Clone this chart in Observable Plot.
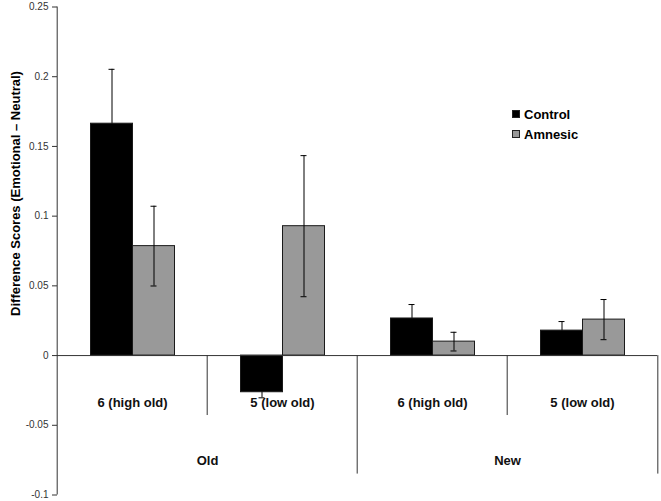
<!DOCTYPE html>
<html>
<head>
<meta charset="utf-8">
<script src="https://cdn.jsdelivr.net/npm/d3@7"></script>
<script src="https://cdn.jsdelivr.net/npm/@observablehq/plot@0.6"></script>
<style>
  html, body { margin: 0; padding: 0; background: #fff; }
  #wrap { position: relative; width: 661px; height: 501px; font-family: "Liberation Sans", Arial, sans-serif; }
  #legend { position: absolute; left: 512px; top: 104px; font-size: 13px; font-weight: bold; color: #000; }
  #legend .row { display: flex; align-items: center; height: 20px; }
  #legend .sw { width: 6px; height: 6px; border: 0.5px solid #222; margin-right: 4px; }
</style>
</head>
<body>
<div id="wrap"></div>
<script>
// ---- data ----
const groups    = ["Old", "Old", "New", "New"];
const subgroups = ["6 (high old)", "5 (low old)", "6 (high old)", "5 (low old)"];
const series    = ["Control", "Amnesic"];
const colors    = ["#000000", "#999999"];
const control    = [0.1663, -0.0263, 0.0266, 0.0179];
const amnesic    = [0.0785, 0.0928, 0.0100, 0.0258];
const controlErr = [0.0390, 0.0040, 0.0100, 0.0065];
const amnesicErr = [0.0286, 0.0506, 0.0067, 0.0144];
const yTicks = [-0.1, -0.05, 0, 0.05, 0.1, 0.15, 0.2, 0.25];
const yTitle = "Difference Scores (Emotional \u2013 Neutral)";

// ---- build table ----
const slots = subgroups.map((_, i) => i);
const rows = [];
slots.forEach(i => {
  rows.push({slot: i, series: "Control", value: control[i], err: controlErr[i]});
  rows.push({slot: i, series: "Amnesic", value: amnesic[i], err: amnesicErr[i]});
});
const controlRows = rows.filter(d => d.series === "Control");
const amnesicRows = rows.filter(d => d.series === "Amnesic");
const subRows = slots.map(i => ({slot: i, label: subgroups[i], group: groups[i]}));
// group label sits on the boundary between the two subgroups of a group
const groupRows = subRows.filter((d, i) => i % 2 === 0);

const W = 661, H = 501, mL = 55.5, mR = 3, mT = 6.5, mB = 6.5;
const bw = (W - mL - mR) / slots.length;
const minorDepth = -0.043, majorDepth = -0.085;
const dividers = [
  {slot: 1, depth: minorDepth, side: -1},
  {slot: 2, depth: majorDepth, side: -1},
  {slot: 3, depth: minorDepth, side: -1},
  {slot: 3, depth: majorDepth, side: 1}
];
const lineColor = "#333";

function errorMarks(data) {
  return [
    Plot.ruleX(data, {fx: "slot", x: "series", y1: d => d.value - d.err, y2: d => d.value + d.err, stroke: "#000", strokeWidth: 1}),
    Plot.tickY(data, {fx: "slot", x: "series", y: d => d.value + d.err, insetLeft: 18, insetRight: 18, stroke: "#000", strokeWidth: 1}),
    Plot.tickY(data, {fx: "slot", x: "series", y: d => d.value - d.err, insetLeft: 18, insetRight: 18, stroke: "#000", strokeWidth: 1})
  ];
}

const chart = Plot.plot({
  width: W, height: H,
  marginLeft: mL, marginRight: mR, marginTop: mT, marginBottom: mB,
  style: {fontFamily: "'Liberation Sans', Arial, sans-serif", background: "#fff"},
  fx: {domain: slots, padding: 0, axis: null},
  x: {domain: series, paddingInner: 0, paddingOuter: 0.75, axis: null},
  y: {domain: [yTicks[0], yTicks[yTicks.length - 1]], axis: null},
  color: {domain: series, range: colors},
  marks: [
    // control error bars sit behind the bars (as in the original)
    ...errorMarks(controlRows),
    // bars
    Plot.barY(rows, {fx: "slot", x: "series", y: "value", fill: "series", stroke: "#1a1a1a", strokeWidth: 1}),
    // amnesic error bars drawn over the bars
    ...errorMarks(amnesicRows),
    // zero line
    Plot.ruleY([0], {stroke: lineColor, strokeWidth: 1}),
    // y axis line (left edge of first slot)
    Plot.ruleX([0], {fx: () => 0, x: null, y1: yTicks[0], y2: yTicks[yTicks.length - 1], dx: -bw / 2, stroke: lineColor, strokeWidth: 1}),
    // category dividers
    ...dividers.map(d => Plot.ruleX([d], {fx: "slot", x: null, y1: () => 0, y2: "depth", dx: d.side * bw / 2, stroke: lineColor, strokeWidth: 1})),
    // y axis ticks + labels
    Plot.axisY(yTicks, {fx: () => 0, ticks: yTicks, tickSize: 5, tickPadding: 4, tickFormat: d => String(d),
      fontSize: 10, fill: "#333", stroke: lineColor, label: null}),
    // subgroup labels
    Plot.text(subRows, {fx: "slot", text: "label", frameAnchor: "bottom", dy: -88.5, fontSize: 13, fontWeight: "bold", fill: "#111"}),
    // group labels
    Plot.text(groupRows, {fx: "slot", text: "group", frameAnchor: "bottom-right", textAnchor: "middle", dy: -30, fontSize: 13, fontWeight: "bold", fill: "#111"}),
    // y title
    Plot.text([yTitle], {fx: () => 0, text: d => d, frameAnchor: "left", rotate: -90, textAnchor: "middle",
      dx: -41.5, dy: -57.5, fontSize: 13, fontWeight: "bold", fill: "#000"})
  ]
});

const wrap = document.getElementById("wrap");
wrap.appendChild(chart);

const legend = document.createElement("div");
legend.id = "legend";
series.forEach((s, i) => {
  const row = document.createElement("div");
  row.className = "row";
  const sw = document.createElement("span");
  sw.className = "sw";
  sw.style.background = colors[i];
  const t = document.createElement("span");
  t.textContent = s;
  row.appendChild(sw);
  row.appendChild(t);
  legend.appendChild(row);
});
wrap.appendChild(legend);
</script>
</body>
</html>
